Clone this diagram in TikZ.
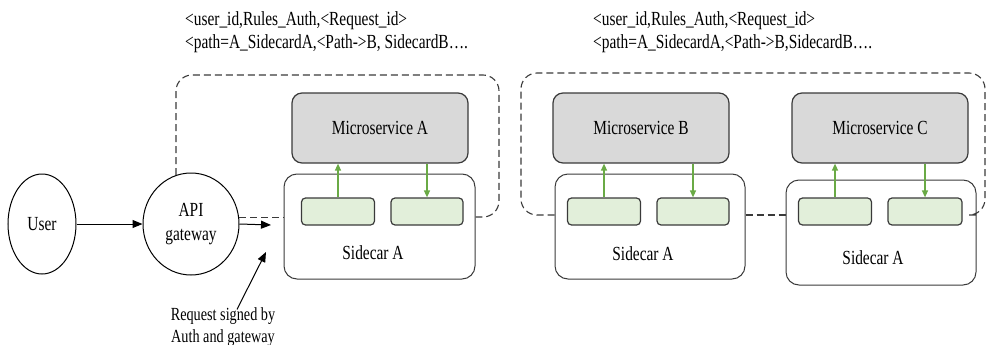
\documentclass[tikz,border=0pt]{standalone}
\usepackage{fontspec}
\setmainfont{Liberation Serif}[FakeStretch=0.77]
\usetikzlibrary{arrows.meta,shapes.geometric}
\definecolor{msgray}{HTML}{D9D9D9}
\definecolor{lgreen}{HTML}{E2EFDA}
\definecolor{agreen}{HTML}{6AAA45}
\definecolor{edgec}{HTML}{3A3A3A}
\begin{document}
\begin{tikzpicture}[x=1pt,y=-1pt,
  font=\fontsize{20}{23}\selectfont,
  ms/.style={draw=edgec, fill=msgray, rounded corners=10pt, line width=1.2pt, minimum width=176pt, minimum height=70pt},
  sc/.style={draw=edgec, rounded corners=13pt, line width=1pt, minimum width=190pt, minimum height=105pt},
  gb/.style={draw=edgec, fill=lgreen, rounded corners=4pt, line width=1.2pt, minimum width=73pt, minimum height=27pt},
  garrow/.style={draw=agreen, line width=1.3pt, -{Triangle[length=7pt,width=6pt]}},
  barrow/.style={draw=black, line width=1pt, -{Triangle[length=10pt,width=8pt]}},
  grp/.style={draw=edgec, dash pattern=on 7pt off 4pt, line width=1.1pt, rounded corners=16pt},
  dline/.style={draw=edgec, dash pattern=on 7pt off 4pt, line width=1.1pt},
  circ/.style={draw=black, ellipse, line width=1pt, align=center, inner sep=0pt},
  txt/.style={inner sep=0pt, align=left}
]
\useasboundingbox (0,0) rectangle (987,345);

% top texts
\node[txt, anchor=west] (t1) at (185,32) {<user\_id,Rules\_Auth,<Request\_id>\\<path=A\_SidecardA,<Path->B, SidecardB….};
\node[txt, anchor=west] (t2) at (593,32) {<user\_id,Rules\_Auth,<Request\_id>\\<path=A\_SidecardA,<Path->B,SidecardB….};

% user and gateway
\node[circ, minimum width=68pt, minimum height=100pt] (user) at (42,224) {User};
\node[circ, minimum width=96pt, minimum height=102pt] (api) at (191,224) {API\\[1pt]gateway};

% microservice A
\node[ms] (msA) at (380,128) {Microservice A};
\node[sc, minimum width=191pt] (scA) at (379.5,226.5) {};
\node[gb] (gA1) at (338,211.5) {};
\node[gb, minimum width=72pt] (gA2) at (427,211.5) {};
\node[inner sep=0pt] (lA) at (373,253) {Sidecar A};

% microservice B
\node[ms] (msB) at (641,128) {Microservice B};
\node[sc] (scB) at (650,226.5) {};
\node[gb] (gB1) at (604,211.5) {};
\node[gb, minimum width=72pt] (gB2) at (693,211.5) {};
\node[inner sep=0pt] (lB) at (643,254) {Sidecar A};

% microservice C
\node[ms] (msC) at (880,128) {Microservice C};
\node[sc] (scC) at (881,232.5) {};
\node[gb] (gC1) at (835,211.5) {};
\node[gb, minimum width=74pt] (gC2) at (925,211.5) {};
\node[inner sep=0pt] (lC) at (873,258) {Sidecar A};

% green arrows
\draw[garrow] (gA1.north) -- (gA1.north |- msA.south);
\draw[garrow] (gA2.north |- msA.south) -- (gA2.north);
\draw[garrow] (gB1.north) -- (gB1.north |- msB.south);
\draw[garrow] (gB2.north |- msB.south) -- (gB2.north);
\draw[garrow] (gC1.north) -- (gC1.north |- msC.south);
\draw[garrow] (gC2.north |- msC.south) -- (gC2.north);

% dashed groups
\draw[grp] (api.107) -- (api.107 |- 0,75) -- (499,75) -- (499,217) -- (scA.east |- 0,217);
\draw[dline] (api.8) -- (api.8 -| scA.west);
\draw[grp] (scB.west |- 0,215) -- (521,215) -- (521,73) -- (985,73) -- (985,215) -- (scC.east |- 0,215);
\draw[dline] (scB.east |- 0,215) -- (scC.west |- 0,215);

% black arrows
\coordinate (tip) at (271,225);
\coordinate (reqtip) at (266,252);
\draw[barrow] (user) -- (api);
\draw[barrow] (api.east) -- (tip);
\node[inner sep=0pt, align=center, font=\fontsize{18.5}{22}\selectfont] (req) at (223,327) {Request signed by\\Auth and gateway};
\draw[barrow] ([xshift=14pt,yshift=-2pt]req.north) -- (reqtip);
\end{tikzpicture}
\end{document}
